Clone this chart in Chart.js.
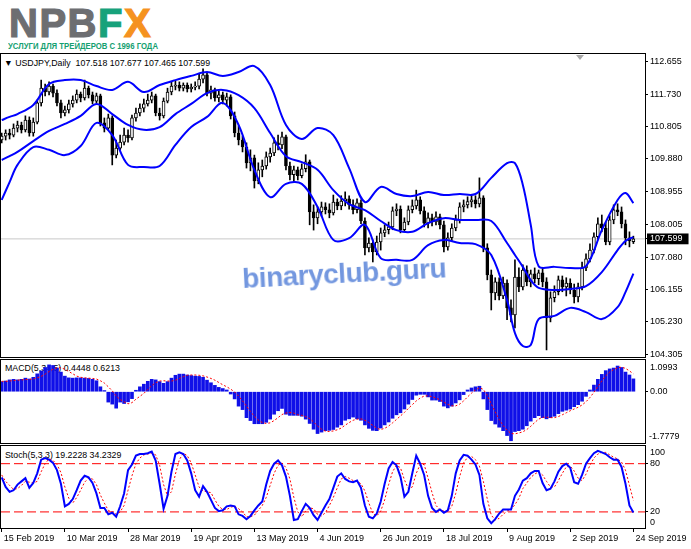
<!DOCTYPE html>
<html>
<head>
<meta charset="utf-8">
<script src="https://cdn.jsdelivr.net/npm/chart.js@4.4.1/dist/chart.umd.min.js"></script>
<style>
html,body{margin:0;padding:0;background:#fff;}
#root{position:relative;width:691px;height:549px;overflow:hidden;background:#fff;font-family:"Liberation Sans",Arial,sans-serif;}
.layer{position:absolute;left:0;top:0;}
.txt{position:absolute;white-space:pre;color:#000;line-height:1;font-family:"Liberation Sans",Arial,sans-serif;}
#logo{position:absolute;left:9px;top:3px;font:bold 40px "Liberation Sans",Arial,sans-serif;letter-spacing:1.5px;line-height:1;white-space:nowrap;}
#logo span{-webkit-text-stroke:1.2px currentColor;}
#slogan{position:absolute;left:8px;top:41.5px;font:bold 9.2px "Liberation Sans",Arial,sans-serif;line-height:1;color:#14a070;white-space:nowrap;transform-origin:0 0;}
#wm{position:absolute;left:243px;top:265px;font:bold 28px "Liberation Sans",Arial,sans-serif;letter-spacing:-0.5px;line-height:1;color:rgba(80,125,215,0.8);white-space:nowrap;transform:rotate(-3deg);transform-origin:0 100%;}
#tri{position:absolute;left:576px;top:55px;width:0;height:0;border-left:4px solid transparent;border-right:4px solid transparent;border-top:5px solid #a8a8a8;}
</style>
</head>
<body>
<div id="root">
  <div id="logo"><span style="color:#6d6e71">NPB</span><span style="color:#17a27b">F</span><span style="color:#f5921f">X</span></div>
  <div id="slogan">УСЛУГИ ДЛЯ ТРЕЙДЕРОВ С 1996 ГОДА</div>
  <div class="txt" id="hdr" style="left:4px;top:58.8px;font-size:8.8px;"></div>
  <div class="txt" id="macdLbl" style="left:5px;top:364.2px;font-size:8.8px;"></div>
  <div class="txt" id="stochLbl" style="left:5px;top:450.8px;font-size:8.8px;"></div>
  <canvas id="cMain" class="layer" width="691" height="549"></canvas>
  <canvas id="cMacd" class="layer" width="691" height="549"></canvas>
  <canvas id="cStoch" class="layer" width="691" height="549"></canvas>
  <div id="tri"></div>
  <div class="txt" id="macdTop" style="left:650px;top:362.7px;font-size:9px;"></div>
  <div class="txt" id="macdBot" style="left:649px;top:432.4px;font-size:9px;"></div>
  <div class="txt" id="stTop" style="left:650px;top:448.1px;font-size:9px;"></div>
  <div class="txt" id="stBot" style="left:650px;top:518.1px;font-size:9px;"></div>
  <div id="wm">binaryclub.guru</div>
</div>
<script>
// ---------------- DATA ----------------
const symbolTitle = 'USDJPY,Daily';
const dateLabels = ['15 Feb 2019','10 Mar 2019','28 Mar 2019','19 Apr 2019','13 May 2019','4 Jun 2019','26 Jun 2019','18 Jul 2019','9 Aug 2019','2 Sep 2019','24 Sep 2019'];
const dateTickBars = [0,16,32,48,64,80,96,112,128,144,160];
const priceTicks = [112.655,111.730,110.805,109.880,108.955,108.005,107.080,106.155,105.230,104.305];
const macdEdgeLabels = [1.0993, -1.7779];
const stochLevels = [20, 80];
const stochEdgeLabels = [100, 0];

const opens = [
110.42,110.53,110.62,110.56,110.76,110.85,110.71,110.99,110.62,110.93,
111.48,111.90,111.79,111.96,111.76,111.48,111.19,111.28,111.45,111.56,
111.73,111.62,111.90,111.71,111.53,111.68,110.91,110.76,111.05,109.99,
110.19,110.36,110.56,110.48,111.05,111.19,111.33,111.45,111.56,111.68,
111.19,111.11,111.53,111.79,111.96,111.99,111.90,111.99,111.88,111.93,
111.96,112.16,112.28,111.76,111.85,111.62,111.71,111.56,111.65,111.11,
110.62,110.42,110.22,109.77,109.91,109.25,109.57,109.68,109.94,110.05,
110.34,110.28,110.51,109.68,109.43,109.57,109.40,109.60,109.80,108.37,
108.20,108.37,108.51,108.43,108.34,108.65,108.54,108.68,108.74,108.57,
108.43,108.63,108.11,107.34,107.48,107.23,107.51,107.77,107.86,107.94,
108.40,108.45,107.86,108.08,108.43,108.54,108.71,108.40,108.05,108.20,
108.08,108.23,108.00,107.37,107.63,107.91,108.14,108.51,108.57,108.66,
108.71,108.60,108.77,107.34,106.57,106.06,106.37,105.97,106.34,105.63,
105.43,106.51,106.23,106.71,106.37,106.60,106.46,106.63,106.37,105.34,
105.92,106.09,106.43,106.23,106.34,106.14,105.94,106.23,106.77,107.03,
107.28,107.66,108.03,107.91,107.51,108.14,108.43,108.37,108.03,107.63,
107.518];
const highs = [
110.62,110.71,110.73,110.88,110.96,110.93,111.11,111.08,111.05,111.56,
112.13,112.02,112.08,112.02,111.85,111.56,111.39,111.56,111.68,111.85,
111.79,112.13,111.96,111.79,111.76,111.73,111.05,111.16,111.11,110.42,
110.56,110.76,110.71,111.13,111.33,111.45,111.59,111.73,111.79,111.73,
111.33,111.62,111.90,112.08,112.10,112.08,112.05,112.05,112.02,112.08,
112.30,112.45,112.33,111.96,111.90,111.82,111.79,111.76,111.71,111.22,
110.82,110.53,110.34,110.14,109.99,109.77,109.85,110.08,110.19,110.48,
110.56,110.65,110.56,109.79,109.68,109.65,109.74,110.00,109.85,108.57,
108.51,108.65,108.63,108.60,108.85,108.74,108.83,108.94,108.83,108.71,
108.74,108.71,108.20,107.63,107.57,107.68,107.91,108.00,108.08,108.51,
108.60,108.54,108.20,108.54,108.71,108.99,108.80,108.51,108.34,108.31,
108.37,108.31,108.11,107.77,108.03,108.28,108.63,108.71,108.80,108.85,
108.83,109.34,108.83,107.46,106.71,106.49,106.49,106.51,106.43,105.86,
107.00,106.77,106.86,106.83,106.71,106.77,106.71,106.77,106.49,106.09,
106.26,106.54,106.54,106.49,106.46,106.31,106.34,106.94,107.17,107.46,
107.77,108.20,108.28,108.08,108.26,108.57,108.60,108.51,108.14,107.80,
107.677];
const lows = [
110.34,110.42,110.45,110.51,110.65,110.62,110.65,110.53,110.53,110.88,
111.39,111.68,111.71,111.65,111.39,111.05,111.11,111.19,111.36,111.48,
111.51,111.56,111.62,111.45,111.48,110.82,110.65,110.71,109.71,109.91,
110.14,110.28,110.36,110.42,110.96,111.11,111.22,111.39,111.48,111.11,
110.99,111.05,111.48,111.71,111.85,111.82,111.82,111.79,111.79,111.85,
111.88,112.05,111.68,111.59,111.53,111.51,111.45,111.39,111.02,110.51,
110.28,110.08,109.62,109.54,109.05,109.17,109.37,109.59,109.79,109.97,
110.14,110.17,109.57,109.28,109.23,109.28,109.34,109.51,108.00,107.85,
108.03,108.25,108.31,108.20,108.28,108.43,108.43,108.54,108.45,108.31,
108.34,108.03,107.14,107.23,106.94,107.14,107.28,107.66,107.74,107.86,
108.26,107.77,107.80,108.00,108.34,108.45,108.31,107.94,107.91,107.97,
108.00,107.88,107.23,107.28,107.54,107.83,108.05,108.37,108.48,108.51,
108.48,108.51,107.23,106.43,105.57,105.86,105.86,105.89,105.29,105.23,
105.06,106.09,106.14,106.26,106.23,106.34,106.29,106.23,104.43,105.23,
105.80,106.00,106.09,105.97,106.03,105.77,105.80,106.14,106.69,106.94,
107.20,107.57,107.80,107.43,107.43,108.03,108.26,107.91,107.43,107.37,
107.465];
const closes = [
110.53,110.62,110.56,110.76,110.85,110.71,110.99,110.62,110.93,111.48,
111.90,111.79,111.96,111.76,111.48,111.19,111.28,111.45,111.56,111.73,
111.62,111.90,111.71,111.53,111.68,110.91,110.76,111.05,109.99,110.19,
110.36,110.56,110.48,111.05,111.19,111.33,111.45,111.56,111.68,111.19,
111.11,111.53,111.79,111.96,111.99,111.90,111.99,111.88,111.93,111.96,
112.16,112.28,111.76,111.85,111.62,111.71,111.56,111.65,111.11,110.62,
110.42,110.22,109.77,109.91,109.25,109.57,109.68,109.94,110.05,110.34,
110.28,110.51,109.68,109.43,109.57,109.40,109.60,109.80,108.37,108.20,
108.37,108.51,108.43,108.34,108.65,108.54,108.68,108.74,108.57,108.43,
108.63,108.11,107.34,107.48,107.23,107.51,107.77,107.86,107.94,108.40,
108.45,107.86,108.08,108.43,108.54,108.71,108.40,108.05,108.20,108.08,
108.23,108.00,107.37,107.63,107.91,108.14,108.51,108.57,108.66,108.71,
108.60,108.77,107.34,106.57,106.06,106.37,105.97,106.34,105.63,105.43,
106.51,106.23,106.71,106.37,106.60,106.46,106.63,106.37,105.34,105.92,
106.09,106.43,106.23,106.34,106.14,105.94,106.23,106.77,107.03,107.28,
107.66,108.03,107.91,107.51,108.14,108.43,108.37,108.03,107.63,107.54,
107.599];

// Bollinger bands read at these bar positions
const bbBars = [0,2,4,8,12,16,20,24,28,32,36,40,44,48,52,56,60,64,68,72,76,80,84,88,92,96,100,104,108,112,116,120,124,128,130,132,134,136,140,144,148,152,156,158,160];
const bbUpper = [110.99,111.08,111.16,111.42,112.02,112.13,112.13,111.96,111.85,112.08,111.79,111.99,112.13,112.25,112.36,112.25,112.36,112.53,111.99,110.85,110.45,110.76,110.56,109.62,108.65,109.08,108.88,108.82,108.94,108.85,108.88,108.88,109.34,109.76,109.76,109.14,108.00,106.82,106.80,106.77,106.82,107.85,108.71,108.91,108.62];
const bbMiddle = [109.85,109.96,110.08,110.39,110.68,110.88,111.11,111.45,111.16,110.85,110.71,110.79,111.16,111.45,111.76,111.85,111.70,111.33,110.62,109.96,109.79,109.57,108.99,108.59,108.42,108.11,107.85,107.80,108.05,108.19,108.14,108.14,108.11,107.48,107.14,106.80,106.42,106.20,106.14,106.17,106.25,106.65,107.28,107.54,107.65];
const bbLower = [108.71,109.22,109.71,110.22,110.14,109.99,110.25,110.91,110.56,109.71,109.65,109.68,110.28,110.79,111.08,111.48,110.85,109.57,108.79,109.17,109.17,108.51,107.57,107.62,108.00,107.05,107.00,107.00,107.42,107.57,107.48,107.45,107.14,105.85,104.91,104.54,104.57,105.31,105.40,105.63,105.51,105.31,105.65,106.08,106.61];

const macdMain = [
0.35,0.37,0.41,0.43,0.41,0.43,0.47,0.44,0.50,0.62,
0.72,0.84,0.93,0.91,0.82,0.68,0.54,0.48,0.47,0.48,
0.48,0.47,0.46,0.43,0.38,0.17,0.04,-0.36,-0.43,-0.57,
-0.36,-0.41,-0.35,-0.24,0.05,0.17,0.26,0.36,0.43,0.41,
0.35,0.29,0.35,0.47,0.57,0.61,0.61,0.58,0.56,0.54,
0.53,0.50,0.40,0.31,0.22,0.15,0.11,0.06,-0.08,-0.25,
-0.50,-0.62,-0.90,-1.00,-1.11,-1.11,-1.11,-1.06,-0.95,-0.78,
-0.66,-0.58,-0.78,-0.82,-0.82,-0.82,-0.85,-0.95,-1.10,-1.30,
-1.45,-1.40,-1.35,-1.34,-1.31,-1.23,-1.15,-0.99,-0.94,-0.88,
-0.94,-0.99,-1.15,-1.27,-1.34,-1.35,-1.26,-1.15,-1.05,-0.92,
-0.80,-0.73,-0.60,-0.43,-0.27,-0.12,-0.09,-0.09,-0.18,-0.29,
-0.29,-0.34,-0.50,-0.56,-0.50,-0.39,-0.28,-0.10,0.06,0.13,
0.17,0.19,-0.25,-0.62,-1.00,-1.12,-1.23,-1.35,-1.52,-1.70,
-1.38,-1.35,-1.30,-1.18,-1.02,-0.90,-0.83,-0.90,-0.94,-0.90,
-0.85,-0.76,-0.68,-0.64,-0.60,-0.52,-0.45,-0.33,-0.16,0.06,
0.23,0.43,0.60,0.73,0.79,0.82,0.89,0.84,0.68,0.58,
0.4448];
const macdSignal = [
0.36,0.36,0.37,0.39,0.40,0.41,0.42,0.43,0.44,0.48,
0.53,0.61,0.70,0.78,0.83,0.83,0.78,0.70,0.62,0.54,
0.50,0.48,0.47,0.46,0.44,0.38,0.30,0.17,0.03,-0.15,
-0.27,-0.35,-0.42,-0.38,-0.26,-0.16,-0.06,0.08,0.21,0.31,
0.37,0.38,0.37,0.37,0.40,0.46,0.52,0.57,0.58,0.58,
0.57,0.55,0.51,0.46,0.40,0.32,0.24,0.17,0.09,-0.01,
-0.15,-0.32,-0.50,-0.68,-0.85,-0.98,-1.07,-1.10,-1.08,-1.00,
-0.90,-0.79,-0.74,-0.72,-0.74,-0.80,-0.82,-0.86,-0.93,-1.05,
-1.19,-1.30,-1.37,-1.38,-1.36,-1.32,-1.26,-1.16,-1.07,-0.99,
-0.95,-0.94,-0.99,-1.07,-1.17,-1.27,-1.31,-1.27,-1.19,-1.08,
-0.96,-0.84,-0.72,-0.58,-0.45,-0.32,-0.22,-0.15,-0.14,-0.17,
-0.22,-0.28,-0.36,-0.44,-0.49,-0.49,-0.43,-0.32,-0.18,-0.05,
0.06,0.14,0.08,-0.13,-0.42,-0.70,-0.96,-1.17,-1.33,-1.45,
-1.46,-1.43,-1.39,-1.31,-1.20,-1.07,-0.95,-0.89,-0.88,-0.90,
-0.90,-0.86,-0.80,-0.73,-0.66,-0.60,-0.54,-0.46,-0.35,-0.20,
-0.02,0.18,0.37,0.55,0.68,0.77,0.83,0.85,0.81,0.72,
0.6213];
const stochMain = [
63,51,45,47,54,58,62,50,56,68,
85,87,85,81,72,55,27,30,36,47,
59,65,63,56,43,25,25,17,19,14,
27,43,72,79,90,92,92,93,95,84,
55,24,40,70,92,94,92,84,68,47,
39,52,45,35,25,21,22,27,28,27,
17,15,11,15,22,28,33,54,71,80,
84,78,64,40,10,11,21,30,25,16,
10,19,28,36,50,64,68,61,58,57,
59,50,28,14,12,18,33,55,74,82,
78,64,39,45,68,90,80,66,40,25,
20,23,19,22,40,68,84,91,90,85,
79,66,30,12,6,11,18,23,23,23,
40,48,59,62,68,71,71,56,47,49,
58,70,77,80,75,57,55,66,80,87,
93,96,94,92,88,85,85,76,55,28,
19.2228];
const stochSignal = [
66,58,53,48,49,53,58,57,56,58,
70,80,86,84,79,69,51,37,31,38,
47,57,62,61,54,41,31,22,20,17,
20,28,47,65,80,87,91,92,93,91,
78,54,40,45,67,85,93,90,81,66,
51,46,45,44,35,27,23,23,26,27,
24,20,14,14,16,22,28,38,53,68,
78,81,75,61,38,20,14,21,25,24,
17,15,19,28,38,50,61,64,62,59,
58,55,46,31,18,15,21,35,54,70,
78,75,60,49,51,68,79,79,62,44,
28,23,21,21,27,43,64,81,88,89,
85,77,58,36,16,10,12,17,21,23,
29,37,49,56,63,67,70,66,58,51,
51,59,68,76,77,71,62,59,67,78,
87,92,94,94,91,88,86,82,72,53,
34.2329];
const macdParams = '5,34,5';
const stochParams = '5,3,3';

// ---------------- TEXT ----------------
const lastIdx = closes.length - 1;
const lastClose = closes[lastIdx];
document.getElementById('hdr').textContent = '\u25BC ' + symbolTitle + '  ' +
  [opens[lastIdx], highs[lastIdx], lows[lastIdx], closes[lastIdx]].map(v => v.toFixed(3)).join(' ');
document.getElementById('macdLbl').textContent = 'MACD(' + macdParams + ') ' + macdMain[lastIdx].toFixed(4) + ' ' + macdSignal[lastIdx].toFixed(4);
document.getElementById('stochLbl').textContent = 'Stoch(' + stochParams + ') ' + stochMain[lastIdx].toFixed(4) + ' ' + stochSignal[lastIdx].toFixed(4);
document.getElementById('macdTop').textContent = macdEdgeLabels[0].toFixed(4);
document.getElementById('macdBot').textContent = macdEdgeLabels[1].toFixed(4);
document.getElementById('stTop').textContent = String(stochEdgeLabels[0]);
document.getElementById('stBot').textContent = String(stochEdgeLabels[1]);
(function(){
  const s = document.getElementById('slogan');
  const w = s.getBoundingClientRect().width;
  s.style.transform = 'scaleX(' + (150 / w) + ')';
})();

// ---------------- CHARTS ----------------
Chart.defaults.font.family = '"Liberation Sans", Arial, sans-serif';
Chart.defaults.font.size = 9;
Chart.defaults.color = '#000';

const X_MIN = -0.177, X_MAX = 162.94;
const AXIS_W = 46;

const framePlugin = {
  id: 'frame',
  afterDraw(chart) {
    const {ctx, chartArea: a} = chart;
    ctx.save();
    ctx.strokeStyle = '#000';
    ctx.lineWidth = 1;
    ctx.strokeRect(a.left - 0.5, a.top - 0.5, a.right - a.left + 1, a.bottom - a.top + 1);
    ctx.restore();
  }
};

function xAxis(show) {
  const ax = {
    type: 'linear', min: X_MIN, max: X_MAX, display: show, offset: false,
    afterBuildTicks: s => { s.ticks = dateTickBars.map(v => ({value: v})); },
    grid: {display: show, offset: false, drawOnChartArea: false, drawTicks: true, tickLength: 4, color: '#000'},
    border: {display: false},
    ticks: {
      autoSkip: false, maxRotation: 0, align: 'start', labelOffset: 2, padding: 1.5,
      callback: (v, i) => dateLabels[i]
    }
  };
  if (show) ax.afterFit = s => { s.height = 21; };
  return ax;
}
function yAxis(min, max, tickVals, fmt, extra) {
  return Object.assign({
    type: 'linear', position: 'right', min, max,
    afterBuildTicks: s => { s.ticks = tickVals.map(v => ({value: v})); },
    afterFit: s => { s.width = AXIS_W; },
    grid: {display: true, drawOnChartArea: false, drawTicks: true, tickLength: 3, color: '#000'},
    border: {display: false},
    ticks: {autoSkip: false, padding: 2, callback: v => fmt(v)}
  }, extra || {});
}
const common = {
  responsive: false, animation: false, devicePixelRatio: 1, events: [],
  plugins: {legend: {display: false}, tooltip: {enabled: false}}
};

// main price chart
const idx = closes.map((_, i) => i);
const mainTickVals = priceTicks.concat([lastClose]);
new Chart(document.getElementById('cMain'), {
  type: 'bar',
  data: {
    datasets: [
      {type: 'line', data: [{x: X_MIN, y: lastClose}, {x: X_MAX, y: lastClose}], borderColor: '#c8c8c8', borderWidth: 1, pointRadius: 0, order: 5},
      {type: 'bar', data: idx.map(i => ({x: i, y: [lows[i], highs[i]]})), backgroundColor: '#000', barThickness: 1, grouped: false, order: 4},
      {type: 'bar', data: idx.map(i => ({x: i, y: [opens[i], closes[i]]})),
        backgroundColor: idx.map(i => closes[i] >= opens[i] ? '#ffffff' : '#000000'),
        borderColor: '#000', borderWidth: 1, borderSkipped: false, barThickness: 3, grouped: false, order: 3},
      {type: 'line', data: bbBars.map((b, k) => ({x: b, y: bbUpper[k]})), borderColor: '#0000ff', borderWidth: 2, pointRadius: 0, tension: 0.35, order: 1},
      {type: 'line', data: bbBars.map((b, k) => ({x: b, y: bbMiddle[k]})), borderColor: '#0000ff', borderWidth: 2, pointRadius: 0, tension: 0.35, order: 1},
      {type: 'line', data: bbBars.map((b, k) => ({x: b, y: bbLower[k]})), borderColor: '#0000ff', borderWidth: 2, pointRadius: 0, tension: 0.35, order: 1}
    ]
  },
  options: Object.assign({}, common, {
    layout: {padding: {left: 1, top: 54, right: 0, bottom: 192}},
    scales: {
      x: xAxis(false),
      y: yAxis(104.228, 112.875, mainTickVals, v => v.toFixed(3), {
        ticks: {
          autoSkip: false, padding: 2,
          callback: v => v.toFixed(3),
          color: c => (c.tick && c.tick.value === lastClose) ? '#ffffff' : '#000000',
          showLabelBackdrop: c => !!(c.tick && c.tick.value === lastClose),
          backdropColor: '#000000',
          backdropPadding: {left: 3, right: 6, top: 0, bottom: 0}
        }
      })
    }
  }),
  plugins: [framePlugin]
});

// MACD
new Chart(document.getElementById('cMacd'), {
  type: 'bar',
  data: {
    datasets: [
      {type: 'line', data: idx.map(i => ({x: i, y: macdSignal[i]})), borderColor: '#ff0000', borderWidth: 1, borderDash: [2, 2], pointRadius: 0, order: 1},
      {type: 'bar', data: idx.map(i => ({x: i, y: macdMain[i]})), backgroundColor: '#1010e8', barThickness: 3, grouped: false, order: 2}
    ]
  },
  options: Object.assign({}, common, {
    layout: {padding: {left: 1, top: 360, right: 0, bottom: 106}},
    scales: {
      x: xAxis(false),
      y: yAxis(macdEdgeLabels[1], macdEdgeLabels[0], [0], v => v.toFixed(2))
    }
  }),
  plugins: [framePlugin]
});

// Stochastic
new Chart(document.getElementById('cStoch'), {
  type: 'line',
  data: {
    datasets: [
      {data: [{x: X_MIN, y: stochLevels[0]}, {x: X_MAX, y: stochLevels[0]}], borderColor: '#ff0000', borderWidth: 1, borderDash: [9, 4], pointRadius: 0, order: 3},
      {data: [{x: X_MIN, y: stochLevels[1]}, {x: X_MAX, y: stochLevels[1]}], borderColor: '#ff0000', borderWidth: 1, borderDash: [9, 4], pointRadius: 0, order: 3},
      {data: idx.map(i => ({x: i, y: stochSignal[i]})), borderColor: '#ff0000', borderWidth: 1, borderDash: [2, 2], pointRadius: 0, order: 2},
      {data: idx.map(i => ({x: i, y: stochMain[i]})), borderColor: '#0000ff', borderWidth: 2, pointRadius: 0, order: 1}
    ]
  },
  options: Object.assign({}, common, {
    layout: {padding: {left: 1, top: 446, right: 0, bottom: 0}},
    scales: {
      x: xAxis(true),
      y: yAxis(0, 102, stochLevels, v => String(v))
    }
  }),
  plugins: [framePlugin]
});
</script>
</body>
</html>
